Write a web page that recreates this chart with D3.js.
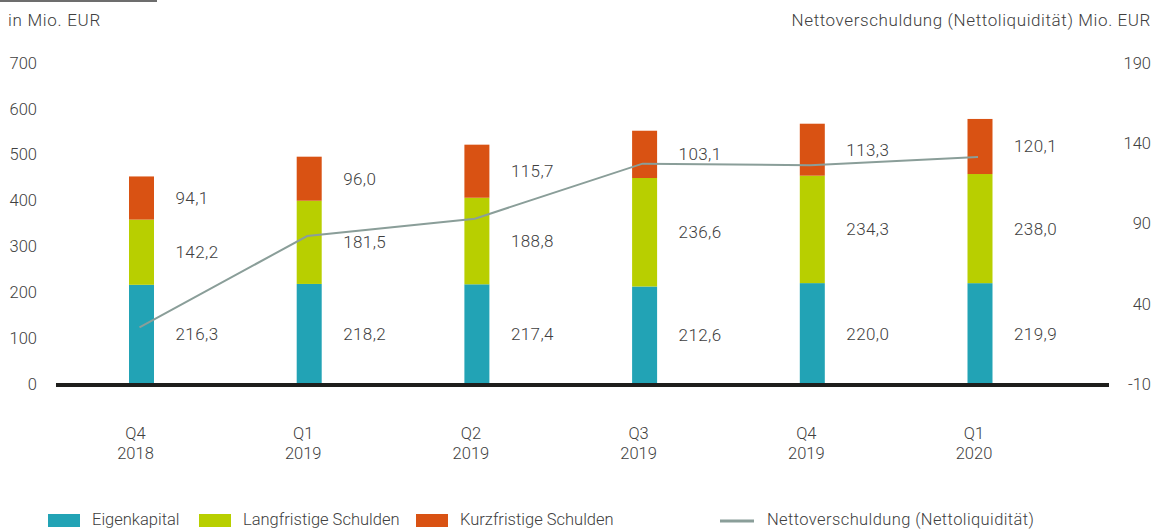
<!DOCTYPE html>
<html>
<head>
<meta charset="utf-8">
<script src="https://cdn.jsdelivr.net/npm/d3@7"></script>
<style>
  body { margin: 0; background: #fff; }
  svg text { font-family: Roboto, "Noto Sans", sans-serif; fill: #404040; font-weight: 300; }
</style>
</head>
<body>
<div id="chart"></div>
<script>
// Chart data
var quarters = ["Q4", "Q1", "Q2", "Q3", "Q4", "Q1"];
var years = ["2018", "2019", "2019", "2019", "2019", "2020"];
var eigenkapital = [216.3, 218.2, 217.4, 212.6, 220.0, 219.9];
var langfristig = [142.2, 181.5, 188.8, 236.6, 234.3, 238.0];
var kurzfristig = [94.1, 96.0, 115.7, 103.1, 113.3, 120.1];
var nettoverschuldung = [25.3, 82.2, 93.0, 127.3, 126.3, 131.4];
var leftTicks = [0, 100, 200, 300, 400, 500, 600, 700];
var rightTicks = [-10, 40, 90, 140, 190];

var seriesNames = ["Eigenkapital", "Langfristige Schulden", "Kurzfristige Schulden"];
var colors = ["#22a3b5", "#b8cf00", "#d95213"];
var lineColor = "#8a9e99";

var width = 1156, height = 529;

var svg = d3.select("#chart").append("svg")
    .attr("width", width)
    .attr("height", height);

// build rows for the stack
var keys = ["ek", "lf", "kf"];
var data = quarters.map(function(q, i) {
    return { idx: i, ek: eigenkapital[i], lf: langfristig[i], kf: kurzfristig[i], net: nettoverschuldung[i] };
});

// scales
var x = d3.scalePoint().domain(d3.range(quarters.length)).range([141.5, 980]);
var y = d3.scaleLinear().domain([0, 700]).range([384, 63]);
var y2 = d3.scaleLinear().domain([-10, 190]).range([384, 63]);
var barW = 25;

// top-left rule
svg.append("line")
    .attr("x1", 0).attr("x2", 157).attr("y1", 1).attr("y2", 1)
    .style("stroke", "#3d3d3d").style("stroke-width", 1.5);

// axis titles
svg.append("text").attr("x", 8).attr("y", 26)
    .style("font-size", "17px").style("letter-spacing", "0.7px").text("in Mio. EUR");
svg.append("text").attr("x", 1151).attr("y", 26).attr("text-anchor", "end")
    .style("font-size", "17px").style("letter-spacing", "0.6px")
    .text("Nettoverschuldung (Nettoliquidität) Mio. EUR");

// left ticks
svg.selectAll(".ltick").data(leftTicks).enter().append("text")
    .attr("class", "ltick")
    .attr("x", 37).attr("y", function(d) { return y(d); })
    .attr("dy", "0.35em").attr("text-anchor", "end")
    .style("font-size", "16.5px")
    .text(function(d) { return d; });

// right ticks
svg.selectAll(".rtick").data(rightTicks).enter().append("text")
    .attr("class", "rtick")
    .attr("x", 1151).attr("y", function(d) { return y2(d); })
    .attr("dy", "0.35em").attr("text-anchor", "end")
    .style("font-size", "16.5px")
    .text(function(d) { return d; });

// stacked bars
var stacked = d3.stack().keys(keys)(data);

var layers = svg.selectAll(".layer").data(stacked).enter().append("g")
    .attr("class", "layer")
    .style("fill", function(d, i) { return colors[i]; });

layers.selectAll("rect").data(function(d) { return d; }).enter().append("rect")
    .attr("x", function(d) { return x(d.data.idx) - barW / 2; })
    .attr("y", function(d) { return y(d[1]); })
    .attr("width", barW)
    .attr("height", function(d) { return y(d[0]) - y(d[1]); });

// value labels
layers.selectAll("text").data(function(d) { return d; }).enter().append("text")
    .attr("x", function(d) { return x(d.data.idx) + 34; })
    .attr("y", function(d) { return (y(d[0]) + y(d[1])) / 2; })
    .attr("dy", "0.35em")
    .style("font-size", "17px")
    .style("letter-spacing", "0.4px")
    .text(function(d) { return d3.format(".1f")(d[1] - d[0]).replace(".", ","); });

// zero line
svg.append("line")
    .attr("x1", 56).attr("x2", 1109)
    .attr("y1", y(0) + 1).attr("y2", y(0) + 1)
    .style("stroke", "#1e1e1c").style("stroke-width", 4);

// net debt line
var netLine = d3.line()
    .x(function(d) { return x(d.idx) - 2; })
    .y(function(d) { return y2(d.net); });

svg.append("path")
    .datum(data)
    .attr("d", netLine)
    .style("fill", "none")
    .style("stroke", lineColor)
    .style("stroke-width", 2);

// category labels
var cat = svg.selectAll(".cat").data(data).enter().append("text")
    .attr("class", "cat")
    .attr("text-anchor", "middle")
    .style("font-size", "16.5px");
cat.append("tspan")
    .attr("x", function(d) { return x(d.idx) - 6; })
    .attr("y", 439)
    .text(function(d) { return quarters[d.idx]; });
cat.append("tspan")
    .attr("x", function(d) { return x(d.idx) - 6; })
    .attr("y", 459)
    .text(function(d) { return years[d.idx]; });

// legend
var legendX = [48, 199, 416];
seriesNames.forEach(function(name, i) {
    svg.append("rect")
        .attr("x", legendX[i]).attr("y", 514)
        .attr("width", 32).attr("height", 13)
        .style("fill", colors[i]);
    svg.append("text")
        .attr("x", legendX[i] + 44).attr("y", 525)
        .style("font-size", "16.5px")
        .text(name);
});
svg.append("line")
    .attr("x1", 720).attr("x2", 754).attr("y1", 521).attr("y2", 521)
    .style("stroke", lineColor).style("stroke-width", 3);
svg.append("text")
    .attr("x", 767).attr("y", 525)
    .style("font-size", "16.5px")
    .style("letter-spacing", "0.4px")
    .text("Nettoverschuldung (Nettoliquidität)");
</script>
</body>
</html>
